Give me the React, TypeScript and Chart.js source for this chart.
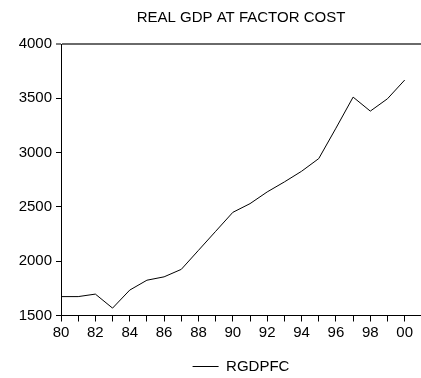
import React, { useEffect, useRef } from "react";
import { Chart, registerables } from "chart.js";

Chart.register(...registerables);

const TITLE = "REAL GDP AT FACTOR COST";
const SERIES_NAME = "RGDPFC";
const YEAR_LABELS = ["80", "81", "82", "83", "84", "85", "86", "87", "88", "89", "90", "91", "92", "93", "94", "95", "96", "97", "98", "99", "00"];
const RGDPFC = [1674, 1674, 1697, 1568, 1734, 1825, 1856, 1925, 2100, 2275, 2450, 2530, 2638, 2730, 2828, 2945, 3225, 3511, 3382, 3496, 3668];
const Y_TICKS = [1500, 2000, 2500, 3000, 3500, 4000];

const FONT = "'Liberation Sans', Arial, Helvetica, sans-serif";

export default function App() {
  const ref = useRef<HTMLCanvasElement | null>(null);

  useEffect(() => {
    document.body.style.margin = "0";
    document.documentElement.style.overflow = "hidden";
    const canvas = ref.current;
    if (!canvas) return;
    const chart = new Chart(canvas, {
      type: "line",
      data: {
        datasets: [
          {
            label: SERIES_NAME,
            data: RGDPFC.map((v, i) => ({ x: i, y: v })),
            borderColor: "#000",
            backgroundColor: "#000",
            borderWidth: 1,
            pointRadius: 0,
            tension: 0,
            fill: false,
          },
        ],
      },
      options: {
        animation: false,
        responsive: false,
        devicePixelRatio: 1,
        layout: { padding: { left: 0, right: 0, top: 0, bottom: 0 } },
        font: { family: FONT, size: 15 },
        plugins: {
          tooltip: { enabled: false },
          title: {
            display: true,
            text: TITLE,
            fullSize: false,
            color: "#000",
            font: { family: FONT, size: 15, weight: "normal" },
            padding: { top: 9, bottom: 17 },
          },
          legend: {
            display: true,
            position: "bottom",
            fullSize: false,
            labels: {
              color: "#000",
              font: { family: FONT, size: 15 },
              usePointStyle: true,
              pointStyle: "line",
              pointStyleWidth: 26,
              padding: 10,
            },
          },
        },
        scales: {
          x: {
            type: "linear",
            min: 0,
            max: 20.95,
            afterBuildTicks: (scale: any) => {
              scale.ticks = YEAR_LABELS.map((_, i) => ({ value: i }));
            },
            afterFit: (scale: any) => {
              scale.height = 33.5;
            },
            grid: {
              drawOnChartArea: false,
              drawTicks: true,
              tickLength: 6,
              tickColor: "#000",
              tickWidth: 1,
            },
            border: { display: true, color: "#000", width: 1 },
            ticks: {
              autoSkip: false,
              maxRotation: 0,
              minRotation: 0,
              padding: 2,
              color: "#000",
              font: { family: FONT, size: 15 },
              callback: (value: any) => {
                const i = Math.round(Number(value));
                return i % 2 === 0 ? YEAR_LABELS[i] : "";
              },
            },
          },
          y: {
            type: "linear",
            min: 1500,
            max: 4000,
            afterBuildTicks: (scale: any) => {
              scale.ticks = Y_TICKS.map((v) => ({ value: v }));
            },
            afterFit: (scale: any) => {
              scale.width = 61;
            },
            grid: {
              drawOnChartArea: true,
              drawTicks: true,
              tickLength: 5,
              tickColor: "#000",
              tickWidth: 1,
              lineWidth: (ctx: any) => (ctx.tick && ctx.tick.value === 4000 ? 2 : 1),
              color: (ctx: any) => (ctx.tick && ctx.tick.value === 4000 ? "#6a6a6a" : "rgba(0,0,0,0)"),
            },
            border: { display: true, color: "#000", width: 1 },
            ticks: {
              padding: 4,
              color: "#000",
              font: { family: FONT, size: 15 },
              callback: (value: any) => String(value),
            },
          },
        },
      },
    });
    return () => chart.destroy();
  }, []);

  return (
    <div style={{ width: 421, height: 378, overflow: "hidden" }}>
      <canvas ref={ref} width={421} height={384} style={{ display: "block" }} />
    </div>
  );
}
